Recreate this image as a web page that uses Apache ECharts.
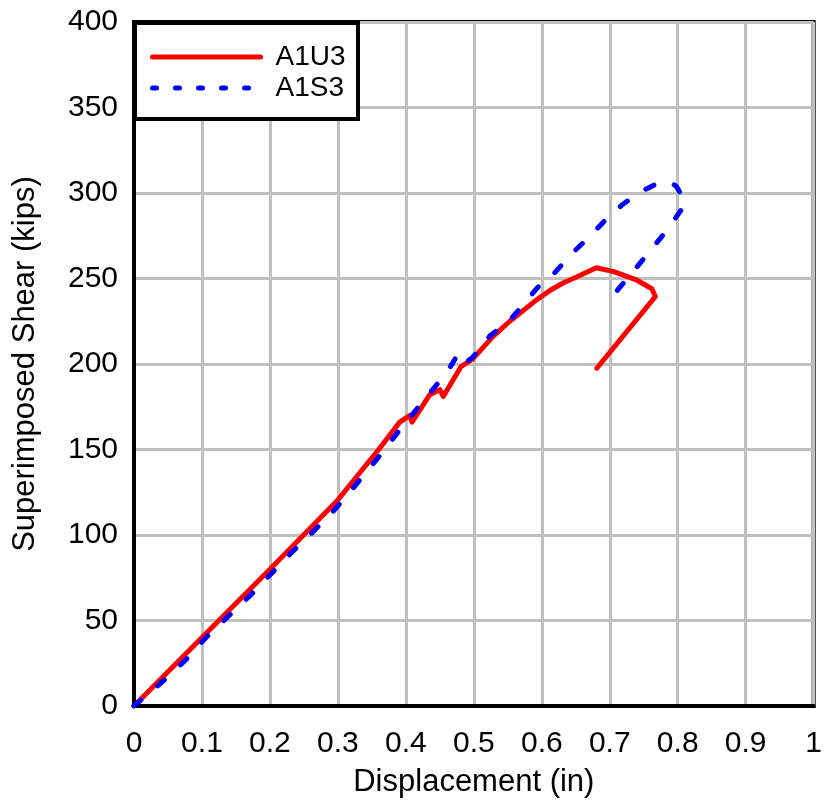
<!DOCTYPE html>
<html>
<head>
<meta charset="utf-8">
<script src="https://cdn.jsdelivr.net/npm/echarts@6/dist/echarts.min.js"></script>
<style>
  html, body { margin: 0; padding: 0; background: #fff; }
  #chart { width: 825px; height: 803px; }
</style>
</head>
<body>
<div id="chart"></div>
<script>
// Load–displacement response of the two specimens
const seriesNames = ['A1U3', 'A1S3'];

const a1u3Disp  = [0, 0.1, 0.2, 0.3, 0.36, 0.391, 0.406, 0.409, 0.435, 0.45, 0.455, 0.481, 0.4985, 0.528, 0.552, 0.589, 0.613, 0.632, 0.652, 0.68, 0.706, 0.74, 0.762, 0.767, 0.681];
const a1u3Shear = [0, 40, 80, 120.5, 150, 166, 170, 166, 182, 185, 181, 198.4, 203, 216, 224.7, 236.5, 243.3, 247.5, 251, 256.3, 254, 249, 244, 239.4, 197.5];

const a1s3Disp  = [0, 0.04, 0.075, 0.107, 0.14, 0.172, 0.201, 0.23, 0.26, 0.289, 0.316, 0.341, 0.367, 0.391, 0.418, 0.445, 0.461, 0.477, 0.487, 0.4985, 0.525, 0.552, 0.574, 0.594, 0.616, 0.642, 0.669, 0.693, 0.718, 0.742, 0.767, 0.785, 0.798, 0.812, 0.785, 0.757, 0.728, 0.701, 0.693];
const a1s3Shear = [0, 13.6, 26.5, 40.5, 53, 65, 77, 89, 100.6, 112, 124.4, 136.4, 149, 161.5, 174.6, 187.7, 195.5, 206, 200.5, 204, 217, 225, 235.4, 244.8, 252, 263.7, 274, 284, 293, 300, 305, 307, 304, 294, 278.7, 265, 251, 238.4, 236];

const xTickLabels = ['0', '0.1', '0.2', '0.3', '0.4', '0.5', '0.6', '0.7', '0.8', '0.9', '1'];
const yTickLabels = ['0', '50', '100', '150', '200', '250', '300', '350', '400'];

const pairs = (xs, ys) => xs.map((x, i) => [x, ys[i]]);
const font = 'Liberation Sans, Arial, sans-serif';

const chart = echarts.init(document.getElementById('chart'), null, { renderer: 'canvas' });

chart.setOption({
  animation: false,
  backgroundColor: '#ffffff',
  grid: {
    left: 134, top: 22, right: 7, bottom: 97,
    show: true, borderColor: '#000', borderWidth: 4, backgroundColor: 'transparent'
  },
  xAxis: {
    type: 'value', min: 0, max: 1, interval: 0.1,
    name: 'Displacement (in)', nameLocation: 'middle', nameGap: 61,
    nameTextStyle: { fontFamily: font, fontSize: 31, color: '#000' },
    axisLine: { show: true, lineStyle: { color: '#000', width: 4 } },
    axisTick: { show: false },
    axisLabel: {
      margin: 23, fontFamily: font, fontSize: 30, color: '#000',
      formatter: v => xTickLabels[Math.round(v * 10)]
    },
    splitLine: { show: true, lineStyle: { color: '#c0c0c0', width: 3 } }
  },
  yAxis: {
    type: 'value', min: 0, max: 400, interval: 50,
    name: 'Superimposed Shear (kips)', nameLocation: 'middle', nameGap: 93, nameRotate: 90,
    nameTextStyle: { fontFamily: font, fontSize: 31, color: '#000' },
    axisLine: { show: true, lineStyle: { color: '#000', width: 4 } },
    axisTick: { show: false },
    axisLabel: {
      margin: 16, fontFamily: font, fontSize: 30, color: '#000',
      formatter: v => yTickLabels[Math.round(v / 50)]
    },
    splitLine: { show: true, lineStyle: { color: '#c0c0c0', width: 3 } }
  },
  graphic: [{
    type: 'rect', z: 3,
    shape: { x: 135, y: 23, width: 223, height: 96 },
    style: { fill: '#fff', stroke: '#000', lineWidth: 4 }
  }],
  legend: {
    orient: 'vertical', left: 150, top: 43, padding: 0,
    itemWidth: 108, itemHeight: 10, itemGap: 3, z: 5,
    itemStyle: { opacity: 0 },
    lineStyle: { width: 5, cap: 'round' },
    textStyle: { fontFamily: font, fontSize: 28, color: '#000', padding: [0, 0, 0, 10] },
    data: [
      { name: seriesNames[0] },
      { name: seriesNames[1], lineStyle: { width: 5, type: [4, 19], cap: 'round' } }
    ]
  },
  series: [
    {
      name: seriesNames[0], type: 'line', data: pairs(a1u3Disp, a1u3Shear),
      showSymbol: false, symbol: 'none', z: 3,
      lineStyle: { color: '#ff0000', width: 5, cap: 'round', join: 'round' },
      itemStyle: { color: '#ff0000' }
    },
    {
      name: seriesNames[1], type: 'line', data: pairs(a1s3Disp, a1s3Shear),
      showSymbol: false, symbol: 'none', z: 4,
      lineStyle: { color: '#0000ff', width: 5, type: [9, 22], cap: 'round', join: 'round' },
      itemStyle: { color: '#0000ff' }
    }
  ]
});
</script>
</body>
</html>
